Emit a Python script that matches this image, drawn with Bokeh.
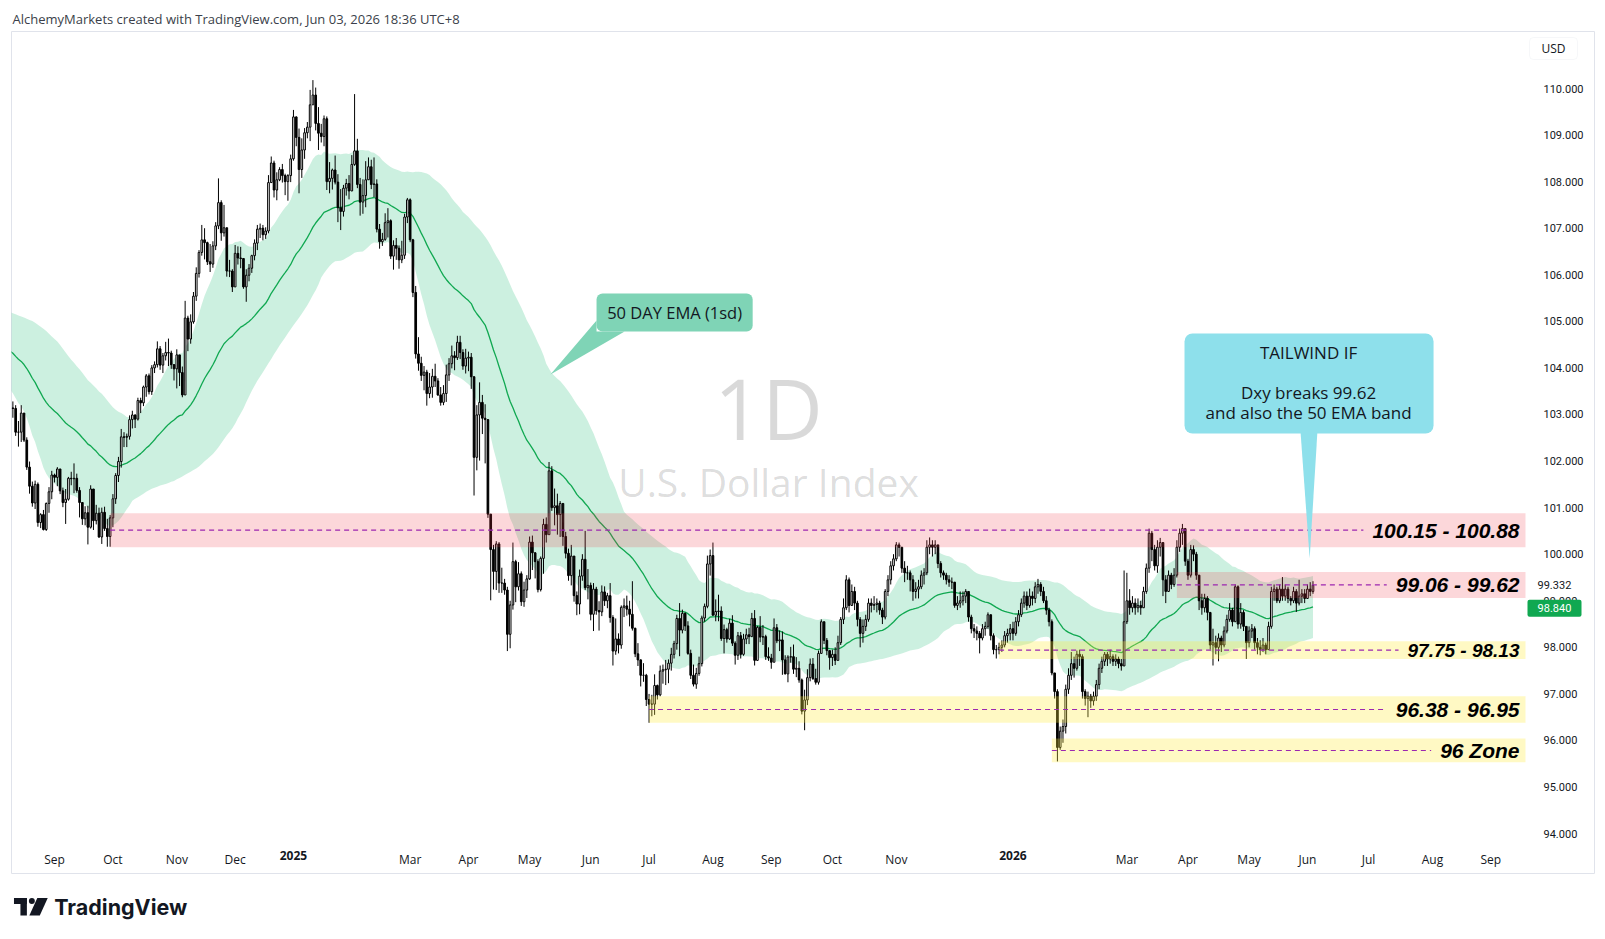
import numpy as np
import pandas as pd
from bokeh.plotting import figure
from bokeh.layouts import column
from bokeh.models import (Range1d, LinearAxis, FixedTicker, PrintfTickFormatter,
                          Label, BoxAnnotation, ColumnDataSource)
from bokeh.core.properties import value
from bokeh.embed import file_html
from bokeh.resources import INLINE

# ---------------------------------------------------------------- data
# Daily closes before the visible window, used only to seed the 50-day EMA / stdev band
warm_close = [
    104.57, 104.63, 104.92, 104.98, 104.72, 104.61, 104.60, 105.11, 104.74, 104.67,
    104.13, 104.25, 104.27, 104.09, 104.89, 105.17, 105.27, 104.67, 105.22, 105.55,
    105.33, 105.25, 105.27, 105.61, 105.80, 105.46, 105.63, 106.03, 105.86, 105.87,
    105.90, 105.73, 105.40, 105.30, 104.88, 105.00, 105.11, 105.06, 104.43, 104.09,
    104.24, 104.22, 103.75, 104.18, 104.39, 104.29, 104.47, 104.37, 104.35, 104.31,
    104.57, 104.54, 104.09, 104.43, 103.21, 102.73, 102.98, 103.21, 103.16, 103.14,
]

# U.S. Dollar Index daily closes, 12 Aug 2024 .. 3 Jun 2026 (one line per month)
close = [
    103.13, 102.62, 102.62, 103.03, 102.45, 101.87, 101.46, 101.10, 101.50, 100.68, 100.85, 100.53, 101.09, 101.34, 101.70,
    101.65, 101.83, 101.36, 101.11, 101.18, 101.63, 101.62, 101.63, 101.37, 101.11, 100.76, 100.89, 100.58, 101.40, 100.72, 100.88, 100.37, 100.90, 100.55, 100.38, 100.78,
    101.19, 101.69, 101.99, 102.52, 102.51, 102.53, 102.89, 102.99, 102.90, 103.30, 103.25, 103.59, 103.83, 103.49, 104.00, 104.07, 104.41, 104.06, 104.26, 104.33, 104.32, 104.07, 103.98,
    104.28, 103.90, 103.42, 105.07, 104.62, 104.99, 105.54, 106.03, 106.48, 106.75, 106.69, 106.28, 106.23, 106.62, 107.05, 107.55, 106.90, 107.01, 106.08, 106.08, 105.74,
    106.46, 106.36, 106.35, 105.74, 105.99, 106.14, 106.41, 106.68, 106.98, 107.00, 106.86, 106.94, 107.98, 108.40, 107.82, 108.04, 108.26, 108.13, 108.00, 108.13, 108.49,
    109.39, 108.95, 108.26, 108.68, 109.05, 109.17, 109.65, 109.86, 109.25, 109.04, 108.97, 109.35, 108.00, 108.07, 108.25, 107.99, 107.44, 107.36, 107.86, 107.96, 107.80, 108.37,
    108.66, 107.94, 107.56, 107.70, 108.04, 108.32, 107.94, 107.95, 106.98, 106.71, 106.76, 107.12, 107.16, 106.40, 106.63, 106.57, 106.32, 106.42, 107.24, 107.61,
    106.75, 105.62, 104.30, 104.10, 103.84, 103.91, 103.45, 103.59, 103.82, 103.72, 103.42, 103.26, 103.45, 103.85, 104.09, 104.26, 104.22, 104.55, 104.33, 104.04, 104.21,
    104.23, 103.81, 102.08, 102.99, 103.26, 102.92, 102.89, 100.86, 100.10, 99.63, 100.22, 99.38, 99.38, 99.23, 98.28, 98.91, 99.84, 99.30, 99.58, 98.98, 99.23, 99.47,
    100.26, 100.03, 99.84, 99.24, 99.91, 100.64, 100.42, 101.79, 101.00, 101.04, 100.85, 101.09, 100.38, 100.02, 99.54, 99.96, 99.11, 98.93, 99.53, 99.89, 99.28, 99.33,
    98.71, 99.25, 98.79, 98.76, 99.19, 99.00, 99.11, 98.64, 97.92, 98.18, 98.05, 98.86, 98.89, 98.82, 98.71, 98.41, 97.86, 97.73, 97.40, 97.40, 96.88,
    96.78, 96.78, 97.18, 96.98, 97.49, 97.52, 97.53, 97.66, 97.85, 98.08, 98.62, 98.37, 98.73, 98.46, 97.87, 97.40, 97.21, 97.44, 97.65, 98.63, 98.88, 99.79, 99.97,
    98.69, 98.77, 98.78, 98.19, 98.38, 98.18, 98.52, 98.09, 97.83, 98.25, 97.85, 98.18, 98.27, 98.23, 98.62, 97.72, 98.43, 98.22, 98.23, 97.80, 97.77,
    97.68, 98.42, 98.14, 98.16, 97.73, 97.43, 97.79, 97.80, 97.53, 97.55, 97.30, 96.63, 96.87, 97.35, 97.64, 97.33, 97.25, 97.87, 98.55, 98.15, 97.93, 97.78,
    97.85, 97.72, 98.10, 98.60, 98.85, 99.45, 98.90, 99.20, 98.95, 98.60, 98.30, 98.45, 98.60, 98.95, 98.90, 98.92, 98.95, 98.80, 98.65, 99.20, 99.45, 99.75, 99.90,
    100.20, 100.15, 99.70, 99.60, 99.60, 99.45, 99.20, 99.25, 99.30, 99.55, 99.60, 100.15, 100.20, 100.15, 100.20, 99.80, 99.60, 99.55, 99.45, 99.40,
    99.40, 98.90, 98.95, 99.00, 99.10, 99.20, 98.65, 98.40, 98.35, 98.30, 98.20, 98.40, 98.45, 98.70, 98.25, 97.95, 97.95, 98.00, 98.05, 98.25, 98.30, 98.40,
    98.30, 98.55, 98.70, 98.95, 99.10, 98.90, 99.10, 99.05, 99.30, 99.35, 99.20, 99.00, 98.80, 98.55, 97.45, 97.05, 95.85, 96.20, 96.30, 97.10, 97.40,
    97.65, 97.55, 97.85, 97.80, 97.05, 96.90, 96.95, 96.85, 96.95, 97.20, 97.55, 97.70, 97.85, 97.75, 97.80, 97.70, 97.75, 97.65, 97.60, 98.55,
    99.00, 98.85, 98.95, 98.85, 98.90, 98.85, 99.20, 99.70, 100.45, 100.10, 99.75, 100.15, 100.25, 99.45, 99.20, 99.55, 99.35, 99.55, 100.15, 100.45, 100.55, 99.85,
    99.55, 100.10, 100.00, 99.55, 99.00, 98.85, 99.05, 98.75, 98.05, 98.10, 98.00, 98.20, 98.05, 98.35, 98.60, 98.80, 98.55, 99.30, 98.50, 98.75, 98.45, 98.10,
    98.35, 98.40, 98.10, 98.00, 97.95, 98.05, 97.95, 98.45, 99.20, 99.25, 99.00, 99.25, 99.10, 99.25, 99.05, 99.00, 99.20, 98.95, 99.10, 99.15, 99.05,
    99.25, 99.20, 99.332,
]

high = [
    103.28, 103.20, 102.86, 103.20, 103.01, 102.51, 101.99, 101.56, 101.58, 101.54, 100.88, 100.95, 101.11, 101.44, 101.79,
    101.73, 101.87, 101.80, 101.43, 101.40, 101.66, 101.77, 101.95, 101.73, 101.44, 101.10, 101.03, 101.04, 101.48, 101.09, 101.06, 101.00, 101.00, 101.02, 100.76, 100.84,
    101.29, 101.74, 102.09, 102.69, 102.62, 102.59, 102.98, 103.08, 103.00, 103.36, 103.36, 103.62, 103.87, 103.88, 104.06, 104.14, 104.57, 104.47, 104.32, 104.56, 104.63, 104.37, 104.08,
    104.40, 104.01, 104.03, 105.44, 105.12, 105.15, 105.63, 106.16, 106.53, 107.07, 107.00, 106.71, 106.66, 106.72, 107.13, 108.07, 107.60, 107.50, 106.92, 106.32, 106.12,
    106.64, 106.61, 106.60, 106.36, 106.12, 106.23, 106.43, 106.76, 107.07, 107.10, 107.07, 107.02, 108.14, 108.54, 108.45, 108.20, 108.31, 108.38, 108.17, 108.16, 108.58,
    109.54, 109.40, 109.14, 108.93, 109.15, 109.28, 109.97, 110.18, 110.02, 109.60, 109.24, 109.42, 109.40, 108.42, 108.28, 108.56, 108.16, 107.84, 107.93, 108.06, 108.14, 108.57,
    109.88, 108.92, 108.08, 108.05, 108.44, 108.52, 108.47, 108.52, 108.05, 107.09, 106.90, 107.32, 107.43, 107.19, 106.74, 106.79, 106.63, 106.73, 107.31, 107.65,
    107.64, 106.77, 105.76, 104.66, 104.24, 104.04, 103.96, 103.89, 103.98, 104.09, 103.78, 103.59, 103.63, 104.07, 104.21, 104.48, 104.36, 104.69, 104.69, 104.40, 104.41,
    104.35, 104.32, 103.82, 103.20, 103.69, 103.42, 103.22, 102.89, 100.80, 100.20, 100.28, 100.26, 99.71, 99.47, 99.30, 99.00, 100.25, 99.88, 99.83, 99.63, 99.41, 99.55,
    100.38, 100.40, 100.04, 99.89, 99.95, 100.76, 100.79, 101.98, 101.89, 101.41, 101.30, 101.14, 100.68, 100.48, 100.12, 100.20, 99.89, 99.20, 99.67, 100.00, 100.50, 99.68,
    99.39, 99.38, 99.30, 98.99, 99.33, 99.31, 99.17, 99.38, 98.69, 98.62, 98.30, 98.90, 99.05, 99.11, 99.00, 99.42, 98.42, 98.09, 97.74, 97.66, 97.43,
    97.00, 96.98, 97.42, 97.20, 97.61, 97.63, 97.73, 97.74, 97.99, 98.14, 98.70, 98.95, 98.81, 98.75, 98.56, 97.95, 97.63, 97.56, 97.80, 98.68, 98.94, 99.97, 100.10,
    100.25, 99.03, 99.13, 98.88, 98.49, 98.42, 98.61, 98.69, 98.13, 98.33, 98.33, 98.29, 98.40, 98.42, 98.74, 98.80, 98.46, 98.67, 98.48, 98.27, 98.00,
    97.86, 98.62, 98.50, 98.36, 98.34, 97.83, 97.83, 98.01, 98.06, 97.79, 97.70, 97.33, 97.09, 97.53, 97.76, 97.77, 97.54, 97.93, 98.60, 98.54, 98.20, 97.93,
    97.95, 98.00, 98.25, 98.65, 99.05, 99.55, 99.50, 99.35, 99.30, 99.00, 98.65, 98.60, 98.70, 99.05, 99.05, 99.10, 99.05, 99.00, 98.85, 99.25, 99.55, 99.85, 100.00,
    100.26, 100.25, 100.12, 99.85, 99.75, 99.65, 99.55, 99.40, 99.45, 99.65, 99.70, 100.30, 100.36, 100.30, 100.30, 100.20, 99.85, 99.65, 99.60, 99.55,
    99.50, 99.40, 99.10, 99.20, 99.20, 99.25, 99.15, 98.70, 98.50, 98.45, 98.35, 98.50, 98.55, 98.75, 98.70, 98.30, 98.05, 98.10, 98.15, 98.35, 98.40, 98.50,
    98.55, 98.65, 98.80, 99.05, 99.20, 99.20, 99.26, 99.20, 99.40, 99.47, 99.40, 99.30, 99.10, 98.85, 98.60, 97.40, 97.10, 96.30, 96.45, 97.20, 97.55,
    97.90, 97.80, 97.93, 97.95, 97.85, 97.10, 97.05, 97.00, 97.05, 97.30, 97.65, 97.80, 97.90, 97.90, 97.95, 97.85, 97.85, 97.80, 97.75, 99.65,
    99.60, 99.25, 99.10, 99.05, 99.05, 99.00, 99.30, 99.80, 100.55, 100.50, 100.20, 100.30, 100.35, 100.20, 99.55, 99.65, 99.60, 99.70, 100.30, 100.55, 100.65, 100.55,
    99.90, 100.20, 100.19, 100.05, 99.55, 99.15, 99.15, 99.10, 98.75, 98.40, 98.25, 98.30, 98.25, 98.45, 98.70, 98.95, 98.85, 99.35, 99.33, 98.95, 98.80, 98.45,
    98.45, 98.50, 98.45, 98.20, 98.15, 98.20, 98.10, 98.55, 99.30, 99.35, 99.30, 99.35, 99.51, 99.35, 99.30, 99.10, 99.30, 99.25, 99.45, 99.25, 99.25,
    99.35, 99.40, 99.42,
]

low = [
    102.93, 102.54, 102.31, 102.41, 102.41, 101.81, 101.30, 101.02, 100.97, 100.59, 100.56, 100.51, 100.50, 100.89, 101.18,
    101.54, 101.46, 101.29, 101.01, 100.65, 101.15, 101.48, 101.31, 101.32, 100.79, 100.63, 100.62, 100.21, 100.55, 100.52, 100.64, 100.35, 100.22, 100.50, 100.16, 100.16,
    100.58, 101.08, 101.55, 101.86, 102.30, 102.30, 102.46, 102.70, 102.71, 102.87, 103.03, 103.18, 103.38, 103.43, 103.42, 103.89, 104.01, 103.96, 103.89, 104.16, 104.04, 103.98, 103.73,
    103.56, 103.61, 103.37, 103.71, 104.36, 104.52, 104.95, 105.44, 105.94, 106.41, 106.33, 106.21, 106.06, 106.15, 106.53, 106.98, 106.73, 106.82, 105.96, 105.95, 105.63,
    105.86, 106.22, 106.14, 105.70, 105.42, 105.86, 106.04, 106.31, 106.53, 106.79, 106.74, 106.77, 106.89, 107.98, 107.66, 107.60, 108.01, 107.98, 107.71, 107.59, 107.99,
    108.45, 108.76, 107.75, 108.08, 108.49, 108.93, 108.87, 109.76, 109.10, 108.68, 108.84, 108.76, 107.82, 107.75, 107.83, 107.94, 107.13, 106.96, 107.25, 107.70, 107.62, 107.84,
    108.34, 107.86, 107.27, 107.31, 107.45, 108.04, 107.84, 107.67, 106.91, 106.56, 106.62, 106.73, 106.80, 106.34, 106.11, 106.32, 106.13, 106.25, 106.34, 107.11,
    106.70, 105.52, 104.20, 103.94, 103.72, 103.52, 103.19, 103.35, 103.36, 103.59, 103.40, 103.19, 103.20, 103.27, 103.72, 103.99, 103.95, 104.17, 104.19, 103.96, 103.88,
    103.93, 103.55, 101.26, 101.80, 102.01, 102.58, 101.95, 100.78, 99.01, 99.24, 99.23, 99.17, 99.17, 99.13, 97.92, 97.98, 98.81, 98.97, 99.22, 98.89, 98.87, 99.06,
    99.45, 99.66, 99.48, 99.18, 99.20, 99.58, 100.25, 100.82, 100.93, 100.62, 100.42, 100.37, 100.18, 99.91, 99.43, 99.33, 98.98, 98.69, 98.71, 99.43, 99.23, 99.03,
    98.58, 98.35, 98.70, 98.36, 98.67, 98.89, 98.84, 98.53, 97.61, 97.84, 97.87, 97.97, 98.65, 98.68, 98.45, 98.36, 97.79, 97.60, 97.16, 97.26, 96.74,
    96.38, 96.52, 96.55, 96.88, 96.95, 97.22, 97.19, 97.23, 97.50, 97.76, 97.95, 97.81, 98.30, 98.35, 97.84, 97.32, 97.16, 97.11, 97.39, 97.59, 98.55, 98.84, 99.54,
    98.68, 98.56, 98.56, 98.14, 97.87, 98.10, 98.16, 98.03, 97.63, 97.73, 97.76, 97.82, 98.07, 98.07, 98.25, 97.61, 97.71, 98.11, 98.05, 97.73, 97.71,
    97.54, 97.70, 98.09, 97.92, 97.41, 97.42, 97.25, 97.67, 97.43, 97.36, 97.24, 96.56, 96.22, 96.76, 97.27, 97.30, 97.20, 97.20, 97.87, 98.07, 97.83, 97.52,
    97.60, 97.62, 97.85, 98.05, 98.50, 98.80, 98.75, 98.90, 98.80, 98.45, 98.00, 98.10, 98.35, 98.55, 98.75, 98.80, 98.75, 98.70, 98.50, 98.60, 99.10, 99.35, 99.65,
    99.85, 99.95, 99.60, 99.40, 99.45, 99.20, 99.00, 99.05, 99.05, 99.25, 99.35, 99.55, 100.00, 99.95, 100.00, 99.70, 99.50, 99.45, 99.35, 99.30,
    99.25, 98.85, 98.80, 98.85, 98.90, 98.95, 98.55, 98.30, 98.20, 98.15, 97.87, 98.15, 98.25, 98.40, 98.15, 97.85, 97.76, 97.85, 97.90, 98.00, 98.10, 98.15,
    98.15, 98.25, 98.45, 98.65, 98.85, 98.80, 98.85, 98.90, 98.95, 99.15, 99.10, 98.95, 98.70, 98.45, 97.40, 96.90, 95.55, 95.80, 95.95, 96.15, 97.00,
    97.30, 97.35, 97.50, 97.60, 96.90, 96.75, 96.50, 96.70, 96.75, 96.85, 97.10, 97.45, 97.60, 97.60, 97.65, 97.60, 97.60, 97.55, 97.50, 97.60,
    98.50, 98.70, 98.75, 98.70, 98.75, 98.70, 98.85, 99.15, 99.60, 99.85, 99.65, 99.60, 99.95, 99.10, 98.95, 99.20, 99.25, 99.30, 99.50, 100.05, 100.20, 99.75,
    99.45, 99.50, 99.85, 99.45, 98.80, 98.70, 98.75, 98.58, 97.95, 97.61, 97.85, 97.70, 97.90, 98.00, 98.30, 98.55, 98.45, 98.55, 98.40, 98.40, 98.35, 97.75,
    98.00, 98.20, 97.95, 97.85, 97.83, 97.90, 97.85, 97.95, 98.40, 99.00, 98.95, 98.95, 99.00, 99.00, 98.95, 98.90, 98.95, 98.76, 98.90, 98.95, 98.95,
    99.05, 99.10, 99.15,
]

ema_last_label = 98.840          # value shown on the price scale for the EMA
price_ticks = list(range(94, 111))

# Support / resistance zones
zone_lo = [100.15, 99.06, 97.75, 96.38, 95.53]
zone_hi = [100.88, 99.62, 98.13, 96.95, 96.04]
zone_from = ["2024-09-30", "2026-03-26", "2025-12-24", "2025-07-01", "2026-01-22"]
zone_text = ["100.15 - 100.88", "99.06 - 99.62", "97.75 - 98.13", "96.38 - 96.95", "96 Zone"]
zone_red = [True, True, False, False, False]

month_keys = ["2024-09", "2024-10", "2024-11", "2024-12", "2025-03", "2025-04", "2025-05",
              "2025-06", "2025-07", "2025-08", "2025-09", "2025-10", "2025-11", "2026-03",
              "2026-04", "2026-05", "2026-06", "2026-07", "2026-08", "2026-09"]
year_keys = ["2025-01", "2026-01"]

# ---------------------------------------------------------------- calendar
holidays = ["2024-12-25", "2025-01-01", "2025-12-25", "2026-01-01"]
bday = pd.offsets.CustomBusinessDay(holidays=holidays)
axis_dates = pd.date_range("2024-05-20", "2026-10-30", freq=bday)
pos = {d.strftime("%Y-%m-%d"): i for i, d in enumerate(axis_dates)}


def at(day, frac=0.0):
    return pos[day] + frac


n_warm = len(warm_close)
assert len(close) == len(high) == len(low)
assert axis_dates[n_warm].strftime("%Y-%m-%d") == "2024-08-12"

all_close = pd.Series(warm_close + close, dtype=float)
x_all = np.arange(len(all_close), dtype=float)
ema = all_close.ewm(span=50, adjust=False).mean()
sd = all_close.rolling(50).std(ddof=0)
band_ok = sd.notna().values

c = np.array(close, dtype=float)
o = all_close.shift(1).values[n_warm:]          # each session opens at the prior close
h = np.array(high, dtype=float)
lo = np.array(low, dtype=float)
xv = x_all[n_warm:]
up = c >= o

# ---------------------------------------------------------------- geometry of the view
BAR_PX = 2.778
PX_PER_USD = 46.57
FRAME_W, FRAME_H = 1583, 842
x_lo = at("2024-08-12") - 0.5
x_hi = x_lo + FRAME_W / BAR_PX
pane_end = x_lo + 1514 / BAR_PX
y_top = 110 + 57 / PX_PER_USD
y_bot = y_top - FRAME_H / PX_PER_USD
pane_bottom = y_top - 809 / PX_PER_USD

TEXT = "#131722"

p = figure(width=1605, height=880, x_range=Range1d(x_lo, x_hi), y_range=Range1d(y_bot, y_top),
           output_backend="svg", toolbar_location=None,
           x_axis_location=None, y_axis_location=None,
           min_border_left=11, min_border_right=11, min_border_top=31, min_border_bottom=7,
           background_fill_color="white", border_fill_color="white",
           outline_line_color="#e0e3eb", outline_line_width=1,
           title="AlchemyMarkets created with TradingView.com, Jun 03, 2026 18:36 UTC+8")
p.grid.visible = False
p.title.align = "left"
p.title.offset = 1
p.title.standoff = 8
p.title.text_font = "Open Sans"
p.title.text_font_size = "13px"
p.title.text_font_style = "normal"
p.title.text_color = "#3b3f4a"

# watermark
wm_x = x_lo + 757 / BAR_PX
p.add_layout(Label(x=wm_x, y=103.15, text="1D", text_align="center", text_baseline="middle",
                   text_font="Open Sans", text_font_size="84px", text_color="#000000",
                   text_alpha=0.15, level="underlay"))
p.add_layout(Label(x=wm_x, y=101.56, text="U.S. Dollar Index", text_align="center",
                   text_baseline="middle", text_font="Open Sans", text_font_size="39px",
                   text_color="#000000", text_alpha=0.15, level="underlay"))

# 50 EMA +/- 1 stdev band
p.varea(x=x_all[band_ok], y1=(ema - sd).values[band_ok], y2=(ema + sd).values[band_ok],
        fill_color="#00b464", fill_alpha=0.2)
p.line(x=x_all, y=ema.values, line_color="#10a851", line_width=1.3)

# candles
p.segment(x0=xv, y0=lo, x1=xv, y1=h, line_color="black", line_width=1)
src_up = ColumnDataSource(dict(x=xv[up], top=np.maximum(o, c)[up], bottom=np.minimum(o, c)[up]))
src_dn = ColumnDataSource(dict(x=xv[~up], top=np.maximum(o, c)[~up], bottom=np.minimum(o, c)[~up]))
p.vbar(x="x", top="top", bottom="bottom", width=0.6, source=src_up,
       fill_color="white", line_color="black", line_width=1)
p.vbar(x="x", top="top", bottom="bottom", width=0.6, source=src_dn,
       fill_color="black", line_color="black", line_width=1)

# zones
BI_WIDTH = {".": 0.278, " ": 0.278, "-": 0.333, "Z": 0.611, "o": 0.611, "n": 0.611}
zone_font_px = [21, 21, 19, 21, 21]
for zl, zh, zf, zt, zr, fs in zip(zone_lo, zone_hi, zone_from, zone_text, zone_red, zone_font_px):
    left = at(zf)
    mid = (zl + zh) / 2
    p.quad(left=left, right=pane_end, bottom=zl, top=zh, line_color=None,
           fill_color="#f23645" if zr else "#ffeb3b", fill_alpha=0.2 if zr else 0.3)
    tw = fs * sum(BI_WIDTH.get(ch, 0.556) for ch in zt)
    line_end = pane_end - (6 + tw + 9) / BAR_PX
    p.segment(x0=left, y0=mid, x1=line_end, y1=mid, line_color="#9c27b0",
              line_width=1.2, line_dash="5 4")
    p.text(x=[pane_end - 6 / BAR_PX], y=[mid], text=[zt], text_align="right",
           text_baseline="middle", text_font=value("Liberation Sans"),
           text_font_style="bold italic", text_font_size=f"{fs}px", text_color="black")

# callout: 50 DAY EMA (1sd)
ema_box = dict(left=at("2025-06-04", 0.1), right=at("2025-08-21", 0.3), bottom=104.78, top=105.60)
p.patch(x=[at("2025-05-12", 0.5), ema_box["left"], ema_box["left"], at("2025-06-18", 0.2)],
        y=[103.86, 105.02, ema_box["bottom"], ema_box["bottom"]],
        fill_color="#7fd4b6", line_color=None)
p.add_layout(BoxAnnotation(**ema_box, fill_color="#7fd4b6", fill_alpha=1.0,
                           line_color=None, border_radius=6))
p.add_layout(Label(x=at("2025-07-14", 0.2), y=105.19, text="50 DAY EMA (1sd)",
                   text_align="center", text_baseline="middle", text_font="Open Sans",
                   text_font_size="16.5px", text_color=TEXT))

# callout: TAILWIND IF
tw_box = dict(left=at("2026-03-30", 0.75), right=at("2026-08-03", 0.4), bottom=102.59, top=104.74)
p.patch(x=[at("2026-05-27", 0.5), at("2026-06-04", 0.6), at("2026-06-01", 0.8)],
        y=[tw_box["bottom"] + 0.05, tw_box["bottom"] + 0.05, 99.91],
        fill_color="#8ee0eb", line_color=None)
p.add_layout(BoxAnnotation(**tw_box, fill_color="#8ee0eb", fill_alpha=1.0,
                           line_color=None, border_radius=8))
tx = at("2026-06-01", 0.4)
for txt, ty in [("TAILWIND IF", 104.331), ("Dxy breaks 99.62", 103.472),
                ("and also the 50 EMA band", 103.032)]:
    p.add_layout(Label(x=tx, y=ty, text=txt, text_align="center", text_baseline="middle",
                       text_font="Open Sans", text_font_size="17px", text_color=TEXT))

# price scale
LABEL_GAP = 12
yax = LinearAxis(fixed_location=pane_end, ticker=FixedTicker(ticks=price_ticks),
                 formatter=PrintfTickFormatter(format="%.3f"),
                 axis_line_color=None, major_tick_line_color=None, minor_tick_line_color=None,
                 major_label_standoff=LABEL_GAP, major_label_text_font="Roboto",
                 major_label_text_font_size="11px", major_label_text_color=TEXT)
p.add_layout(yax, "right")

scale_left = pane_end + LABEL_GAP / BAR_PX
p.add_layout(Label(x=scale_left, y=close[-1], text=f"{close[-1]:.3f}", text_align="left",
                   text_baseline="middle", text_font="Roboto", text_font_size="11px",
                   text_color=TEXT))
half = 8.5 / PX_PER_USD
p.add_layout(BoxAnnotation(left=pane_end + 2 / BAR_PX, right=pane_end + 56 / BAR_PX,
                           bottom=ema_last_label - half, top=ema_last_label + half,
                           fill_color="#10a851", fill_alpha=1.0, line_color=None,
                           border_radius=2))
p.add_layout(Label(x=pane_end + 29 / BAR_PX, y=ema_last_label, text=f"{ema_last_label:.3f}",
                   text_align="center", text_baseline="middle", text_font="Roboto",
                   text_font_size="11px", text_color="white"))

usd_y = 110 + 40 / PX_PER_USD
p.add_layout(BoxAnnotation(left=pane_end + 4 / BAR_PX, right=pane_end + 52 / BAR_PX,
                           bottom=usd_y - 11 / PX_PER_USD, top=usd_y + 11 / PX_PER_USD,
                           fill_color="white", fill_alpha=1.0, line_color="#e0e3eb",
                           line_width=1, border_radius=4))
p.add_layout(Label(x=pane_end + 28 / BAR_PX, y=usd_y, text="USD", text_align="center",
                   text_baseline="middle", text_font="Open Sans", text_font_size="12px",
                   text_color=TEXT))

# time scale
first_of_month = {}
for i, d in enumerate(axis_dates):
    first_of_month.setdefault(d.strftime("%Y-%m"), i)
m_ticks = [first_of_month[k] for k in month_keys]
y_ticks = [first_of_month[k] for k in year_keys]
xax = LinearAxis(fixed_location=pane_bottom, ticker=FixedTicker(ticks=m_ticks),
                 major_label_overrides={t: axis_dates[t].strftime("%b") for t in m_ticks},
                 axis_line_color=None, major_tick_line_color=None, minor_tick_line_color=None,
                 major_label_standoff=4, major_label_text_font="Open Sans",
                 major_label_text_font_size="12px", major_label_text_color=TEXT)
p.add_layout(xax, "below")
yrax = LinearAxis(fixed_location=pane_bottom, ticker=FixedTicker(ticks=y_ticks),
                  major_label_overrides={t: axis_dates[t].strftime("%Y") for t in y_ticks},
                  axis_line_color=None, major_tick_line_color=None, minor_tick_line_color=None,
                  major_label_standoff=4, major_label_text_font="Open Sans",
                  major_label_text_font_size="12px", major_label_text_font_style="bold",
                  major_label_text_color=TEXT)
p.add_layout(yrax, "below")

# ---------------------------------------------------------------- footer with logo
# the footer's plotting frame starts 10px in from the page edge, so its x range starts at 10
f = figure(width=1605, height=59, x_range=Range1d(10, 1605), y_range=Range1d(59, 0),
           output_backend="svg", toolbar_location=None, x_axis_location=None,
           y_axis_location=None, min_border=0, min_border_left=0, min_border_right=0,
           min_border_top=0, min_border_bottom=0, outline_line_color=None,
           background_fill_color="white", border_fill_color="white")
f.grid.visible = False
f.quad(left=12.5, right=25.5, top=17.5, bottom=23.5, fill_color=TEXT, line_color=None)
f.quad(left=19.0, right=25.5, top=17.5, bottom=35.0, fill_color=TEXT, line_color=None)
f.circle(x=30.5, y=20.5, radius=3.0, fill_color=TEXT, line_color=None)
f.patch(x=[36.0, 46.5, 38.5, 28.0], y=[17.5, 17.5, 35.0, 35.0], fill_color=TEXT, line_color=None)
f.text(x=[53], y=[26.5], text=["TradingView"], text_font=value("Inter"), text_font_style="bold",
       text_font_size="21.5px", text_baseline="middle", text_color=TEXT)

layout = column(p, f, spacing=0)
open("out.html", "w").write(file_html(layout, INLINE))
